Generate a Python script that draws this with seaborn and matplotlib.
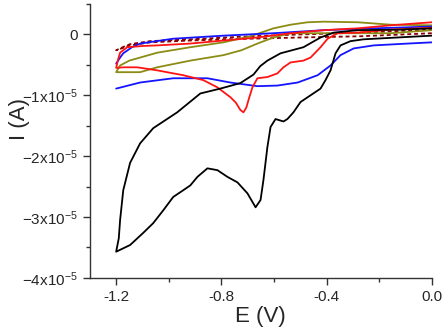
import numpy as np
import pandas as pd
import seaborn as sns
import matplotlib
matplotlib.use("Agg")
import matplotlib.pyplot as plt
from matplotlib.ticker import MultipleLocator, FuncFormatter

SCALE = 1e-5  # currents below are in units of 1e-5 A

# black trace: sweep 0 -> -1.2 V then back to 0
black_e = [0.0, -0.13, -0.259, -0.309, -0.347, -0.366, -0.385, -0.404, -0.423, -0.461,
           -0.499, -0.526, -0.549, -0.564, -0.594, -0.613, -0.625, -0.640, -0.651, -0.670,
           -0.701, -0.739, -0.777, -0.815, -0.853, -0.891, -0.918, -0.945, -0.983, -1.021,
           -1.059, -1.097, -1.147, -1.2,
           -1.19, -1.185, -1.173, -1.147, -1.109, -1.059, -0.968, -0.88, -0.804, -0.728,
           -0.678, -0.652, -0.625, -0.575, -0.488, -0.423, -0.373, -0.282, -0.118, 0.0]
black_i = [-0.02, -0.05, -0.08, -0.11, -0.18, -0.31, -0.59, -0.75, -0.89, -1.00,
           -1.11, -1.28, -1.39, -1.43, -1.39, -1.52, -1.85, -2.39, -2.72, -2.84,
           -2.61, -2.43, -2.34, -2.23, -2.20, -2.34, -2.48, -2.56, -2.67, -2.89,
           -3.10, -3.26, -3.46, -3.57,
           -3.35, -3.05, -2.56, -2.11, -1.79, -1.54, -1.28, -0.97, -0.89, -0.80,
           -0.66, -0.52, -0.43, -0.31, -0.21, -0.05, 0.03, 0.07, 0.08, 0.10]

# red trace
red_e = [0.0, -0.156, -0.282, -0.358, -0.396, -0.423, -0.461, -0.488, -0.537, -0.564,
         -0.587, -0.625, -0.663, -0.682, -0.695, -0.705, -0.716, -0.728, -0.745, -0.766,
         -0.815, -0.869, -0.945, -1.044, -1.12, -1.173, -1.2,
         -1.192, -1.185, -1.158, -1.1, -1.044, -0.918, -0.792, -0.663, -0.537, -0.411,
         -0.282, -0.156, 0.0]
red_i = [0.11, 0.08, 0.03, 0.02, -0.07, -0.21, -0.38, -0.43, -0.46, -0.54,
         -0.64, -0.70, -0.72, -0.87, -1.05, -1.20, -1.28, -1.24, -1.12, -1.03,
         -0.87, -0.75, -0.67, -0.59, -0.54, -0.54, -0.55,
         -0.40, -0.30, -0.21, -0.19, -0.18, -0.15, -0.10, -0.05, 0.02, 0.07,
         0.10, 0.15, 0.20]

# blue trace (two separate branches)
blue_low_e = [0.0, -0.092, -0.221, -0.297, -0.347, -0.385, -0.434, -0.510, -0.587,
              -0.663, -0.766, -0.853, -0.983, -1.109, -1.2]
blue_low_i = [-0.13, -0.15, -0.18, -0.23, -0.34, -0.51, -0.67, -0.79, -0.84,
              -0.85, -0.79, -0.72, -0.72, -0.79, -0.89]
blue_up_e = [-1.2, -1.185, -1.173, -1.14, -1.109, -0.983, -0.792, -0.602, -0.411, -0.221, 0.0]
blue_up_i = [-0.48, -0.38, -0.31, -0.21, -0.15, -0.07, -0.02, 0.02, 0.07, 0.10, 0.13]

# olive trace
olive_e = [0.0, -0.156, -0.282, -0.411, -0.537, -0.602, -0.663, -0.724, -0.792, -0.918,
           -1.044, -1.109, -1.2,
           -1.185, -1.15, -1.109, -1.044, -0.918, -0.792, -0.690, -0.602, -0.537, -0.472,
           -0.411, -0.282, -0.156, 0.0]
olive_i = [0.07, 0.02, 0.02, 0.02, 0.02, -0.05, -0.15, -0.26, -0.34, -0.43,
           -0.54, -0.62, -0.62,
           -0.51, -0.43, -0.38, -0.30, -0.21, -0.13, -0.03, 0.10, 0.16, 0.20, 0.21,
           0.20, 0.16, 0.15]

# dark red dashed trace
dash_e = [0.0, -0.271, -0.499, -0.69, -0.918, -1.071, -1.147, -1.2,
          -1.17, -1.147, -1.071, -0.918, -0.69, -0.499, -0.271, 0.0]
dash_i = [0.02, -0.03, -0.05, -0.07, -0.10, -0.13, -0.18, -0.26,
          -0.20, -0.16, -0.11, -0.08, -0.03, 0.0, 0.03, 0.08]

traces = [
    (dash_e, dash_i, "#8B0000", (0, (2.2, 1.6))),
    (olive_e, olive_i, "#8C8C14", "-"),
    (blue_low_e, blue_low_i, "#1414FF", "-"),
    (blue_up_e, blue_up_i, "#1414FF", "-"),
    (red_e, red_i, "#FF1414", "-"),
    (black_e, black_i, "black", "-"),
]

sns.set_style("ticks")
plt.rcParams["font.family"] = ["Liberation Sans", "DejaVu Sans"]

fig = plt.figure(figsize=(4.47, 3.34), dpi=100)
ax = fig.add_axes([0.201, 0.168, 0.765, 0.820])

for e, i, col, ls in traces:
    df = pd.DataFrame({"E": e, "I": np.array(i) * SCALE})
    sns.lineplot(data=df, x="E", y="I", sort=False, estimator=None,
                 color=col, linestyle=ls, linewidth=1.3, ax=ax)

ax.set_xlim(-1.3, 0.0)
ax.set_ylim(-4e-5, 0.5e-5)
ax.xaxis.set_minor_locator(MultipleLocator(0.2))
ax.set_xticks([-1.2, -0.8, -0.4, 0.0])
ax.yaxis.set_major_locator(MultipleLocator(1e-5))
ax.yaxis.set_minor_locator(MultipleLocator(0.5e-5))


def fmt_y(v, pos):
    n = int(round(v / SCALE))
    if n == 0:
        return "0"
    return r"$\mathregular{%dx10^{-5}}$" % n


ax.yaxis.set_major_formatter(FuncFormatter(fmt_y))
ax.xaxis.set_major_formatter(FuncFormatter(lambda v, p: f"{v:.1f}"))

sns.despine(ax=ax)
for s in ["left", "bottom"]:
    ax.spines[s].set_color("#333333")
    ax.spines[s].set_linewidth(1.0)
ax.tick_params(which="major", direction="out", length=5, width=1, labelsize=11, color="#333333")
ax.tick_params(which="minor", direction="out", length=3, width=1, color="#333333")

ax.set_xlabel("E (V)", fontsize=16, labelpad=2)
ax.set_ylabel("I (A)", fontsize=16)
ax.yaxis.set_label_coords(-0.175, 0.58)

fig.savefig("out.png", dpi=100)
